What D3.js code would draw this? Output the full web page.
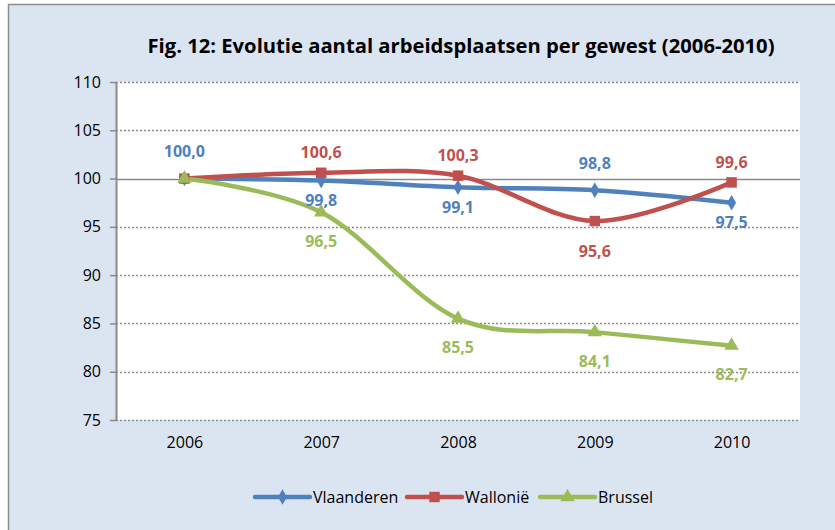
<!DOCTYPE html>
<html>
<head>
<meta charset="utf-8">
<script src="https://cdn.jsdelivr.net/npm/d3@7"></script>
<style>
  body { margin: 0; background: #fff; }
  svg { display: block; font-family: "Open Sans", "Noto Sans", sans-serif; }
</style>
</head>
<body>
<div id="chart"></div>
<script>
const years = ['2006', '2007', '2008', '2009', '2010'];
const vlaanderen = [100.0, 99.8, 99.1, 98.8, 97.5];
const wallonie = [100.0, 100.6, 100.3, 95.6, 99.6];
const brussel = [100.0, 96.5, 85.5, 84.1, 82.7];
// which points carry a label: 1 = above, -1 = below, 0 = none
const vlaanderenLabels = [1, -1, -1, 1, -1];
const wallonieLabels = [0, 1, 1, -1, 1];
const brusselLabels = [0, -1, -1, -1, -1];
const yTicks = [75, 80, 85, 90, 95, 100, 105, 110];

const W = 835, H = 530;
const margin = { top: 82, right: 35, bottom: 110, left: 116 };
const width = W - margin.left - margin.right;
const height = H - margin.top - margin.bottom;

const series = [
  { name: 'Vlaanderen', values: vlaanderen, labels: vlaanderenLabels, color: '#4f81bd', marker: d3.symbolDiamond, size: 70, up: -27, down: 20 },
  { name: 'Walloni\u00eb', values: wallonie, labels: wallonieLabels, color: '#c0504d', marker: d3.symbolSquare, size: 110, up: -20, down: 30 },
  { name: 'Brussel', values: brussel, labels: brusselLabels, color: '#9bbb59', marker: d3.symbolTriangle, size: 90, up: -20, down: 29 }
];

const svg = d3.select('#chart').append('svg')
  .attr('width', W)
  .attr('height', H);

svg.append('rect')
  .attr('x', 8.5).attr('y', 4.5)
  .attr('width', W).attr('height', H)
  .attr('fill', '#dbe5f1')
  .attr('stroke', '#8c8c8c')
  .attr('stroke-width', 1.5);

svg.append('text')
  .attr('x', 461).attr('y', 53)
  .attr('text-anchor', 'middle')
  .attr('font-size', 20)
  .attr('font-weight', 'bold')
  .attr('textLength', 627)
  .attr('lengthAdjust', 'spacingAndGlyphs')
  .attr('fill', '#000')
  .text('Fig. 12: Evolutie aantal arbeidsplaatsen per gewest (2006-2010)');

const g = svg.append('g')
  .attr('transform', 'translate(' + margin.left + ',' + margin.top + ')');

const x = d3.scalePoint()
  .domain(years)
  .range([0, width])
  .padding(0.5);

const y = d3.scaleLinear()
  .domain([75, 110])
  .range([height, 0]);

g.append('rect')
  .attr('x', 0).attr('y', 0)
  .attr('width', width).attr('height', height)
  .attr('fill', '#fff');

// gridlines
g.selectAll('.grid')
  .data(yTicks.filter(d => d !== 100))
  .enter().append('line')
  .attr('x1', 0).attr('x2', width)
  .attr('y1', d => Math.round(y(d)) + 0.5)
  .attr('y2', d => Math.round(y(d)) + 0.5)
  .attr('stroke', '#8a8a8a')
  .attr('stroke-width', 1.5)
  .attr('stroke-dasharray', '2,2');

// horizontal axis crossing at 100
g.append('line')
  .attr('x1', 0).attr('x2', width)
  .attr('y1', Math.round(y(100)) + 0.5)
  .attr('y2', Math.round(y(100)) + 0.5)
  .attr('stroke', '#8a8a8a')
  .attr('stroke-width', 1.5);

// y axis
const yAxis = g.append('g')
  .call(d3.axisLeft(y).tickValues(yTicks).tickSize(6).tickSizeOuter(0).tickPadding(9));
yAxis.select('.domain').attr('stroke', '#8a8a8a').attr('stroke-width', 2);
yAxis.selectAll('.tick line').attr('stroke', '#8a8a8a').attr('stroke-width', 1.5);
yAxis.selectAll('.tick text')
  .attr('font-size', 16)
  .attr('font-family', '"Open Sans", sans-serif')
  .attr('fill', '#000');

// x labels at bottom
const xAxis = g.append('g')
  .attr('transform', 'translate(0,' + height + ')')
  .call(d3.axisBottom(x).tickSize(0).tickPadding(17));
xAxis.select('.domain').remove();
xAxis.selectAll('.tick text')
  .attr('font-size', 16)
  .attr('font-family', '"Open Sans", sans-serif')
  .attr('fill', '#000');

const line = d3.line()
  .x((d, i) => x(years[i]))
  .y(d => y(d))
  .curve(d3.curveCatmullRom.alpha(0));

series.forEach(s => {
  g.append('path')
    .datum(s.values)
    .attr('fill', 'none')
    .attr('stroke', s.color)
    .attr('stroke-width', 4.5)
    .attr('stroke-linecap', 'round')
    .attr('d', line);
});

series.forEach(s => {
  g.selectAll(null)
    .data(s.values)
    .enter().append('path')
    .attr('transform', (d, i) => 'translate(' + x(years[i]) + ',' + y(d) + ')')
    .attr('d', d3.symbol().type(s.marker).size(s.size))
    .attr('fill', s.color);
});

const fmt = d => d.toFixed(1).replace('.', ',');

series.forEach(s => {
  g.selectAll(null)
    .data(s.values.map((v, i) => ({ v, i, pos: s.labels[i] })).filter(d => d.pos !== 0))
    .enter().append('text')
    .attr('x', d => x(years[d.i]))
    .attr('y', d => y(d.v) + (d.pos > 0 ? s.up : s.down))
    .attr('dy', '0.35em')
    .attr('text-anchor', 'middle')
    .attr('font-size', 16)
    .attr('font-weight', 'bold')
    .attr('fill', s.color)
    .text(d => fmt(d.v));
});

// legend
const legendItems = [
  { s: series[0], x: 255 },
  { s: series[1], x: 407 },
  { s: series[2], x: 540 }
];
const leg = svg.append('g');
legendItems.forEach(item => {
  const ly = 497;
  leg.append('line')
    .attr('x1', item.x).attr('x2', item.x + 55)
    .attr('y1', ly).attr('y2', ly)
    .attr('stroke', item.s.color)
    .attr('stroke-width', 4.5)
    .attr('stroke-linecap', 'round');
  leg.append('path')
    .attr('transform', 'translate(' + (item.x + 27.5) + ',' + ly + ')')
    .attr('d', d3.symbol().type(item.s.marker).size(item.s.size))
    .attr('fill', item.s.color);
  leg.append('text')
    .attr('x', item.x + 58)
    .attr('y', ly)
    .attr('dy', '0.35em')
    .attr('font-size', 16)
    .attr('fill', '#000')
    .text(item.s.name);
});
</script>
</body>
</html>
